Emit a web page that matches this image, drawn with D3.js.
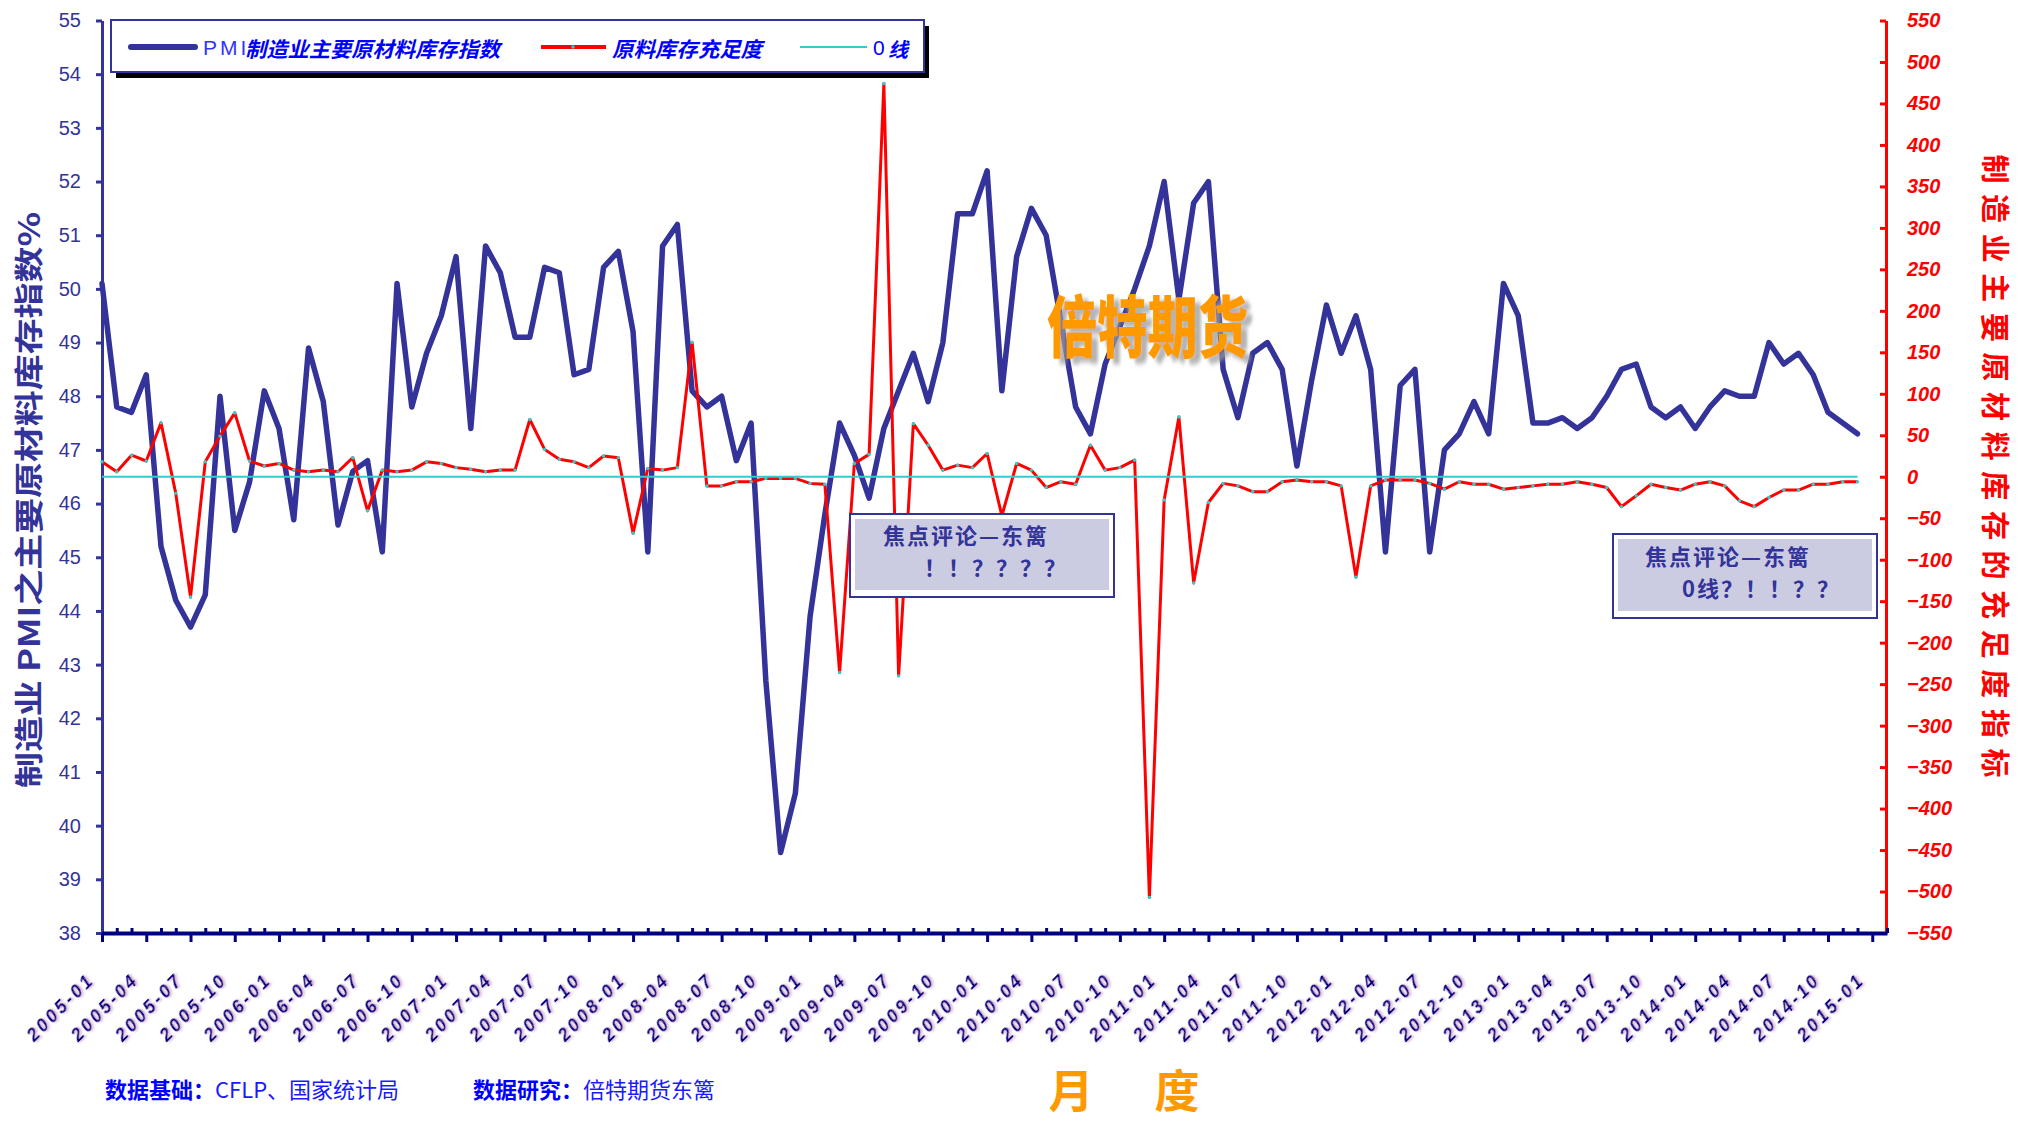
<!DOCTYPE html>
<html><head><meta charset="utf-8">
<script src="https://cdn.jsdelivr.net/npm/d3@7"></script>
<style>
html,body{margin:0;padding:0;background:#fff;overflow:hidden;}
svg{display:block;}
text{font-family:"Noto Sans CJK SC","Liberation Sans",sans-serif;}
</style></head><body>
<svg id="chart" width="2018" height="1124"></svg>
<script>
// ---------------- data ----------------
const categories = [
"2005-01","2005-02","2005-03","2005-04","2005-05","2005-06","2005-07","2005-08","2005-09","2005-10","2005-11","2005-12",
"2006-01","2006-02","2006-03","2006-04","2006-05","2006-06","2006-07","2006-08","2006-09","2006-10","2006-11","2006-12",
"2007-01","2007-02","2007-03","2007-04","2007-05","2007-06","2007-07","2007-08","2007-09","2007-10","2007-11","2007-12",
"2008-01","2008-02","2008-03","2008-04","2008-05","2008-06","2008-07","2008-08","2008-09","2008-10","2008-11","2008-12",
"2009-01","2009-02","2009-03","2009-04","2009-05","2009-06","2009-07","2009-08","2009-09","2009-10","2009-11","2009-12",
"2010-01","2010-02","2010-03","2010-04","2010-05","2010-06","2010-07","2010-08","2010-09","2010-10","2010-11","2010-12",
"2011-01","2011-02","2011-03","2011-04","2011-05","2011-06","2011-07","2011-08","2011-09","2011-10","2011-11","2011-12",
"2012-01","2012-02","2012-03","2012-04","2012-05","2012-06","2012-07","2012-08","2012-09","2012-10","2012-11","2012-12",
"2013-01","2013-02","2013-03","2013-04","2013-05","2013-06","2013-07","2013-08","2013-09","2013-10","2013-11","2013-12",
"2014-01","2014-02","2014-03","2014-04","2014-05","2014-06","2014-07","2014-08","2014-09","2014-10","2014-11","2014-12",
"2015-01","2015-02"
];
const tickLabels = [
"2005-01","2005-04","2005-07","2005-10","2006-01","2006-04","2006-07","2006-10",
"2007-01","2007-04","2007-07","2007-10","2008-01","2008-04","2008-07","2008-10",
"2009-01","2009-04","2009-07","2009-10","2010-01","2010-04","2010-07","2010-10",
"2011-01","2011-04","2011-07","2011-10","2012-01","2012-04","2012-07","2012-10",
"2013-01","2013-04","2013-07","2013-10","2014-01","2014-04","2014-07","2014-10","2015-01"
];
// PMI 制造业主要原材料库存指数 (left axis)
const pmiInventory = [
50.1,47.8,47.7,48.4,45.2,44.2,43.7,44.3,48.0,45.5,46.4,48.1,
47.4,45.7,48.9,47.9,45.6,46.6,46.8,45.1,50.1,47.8,48.8,49.5,
50.6,47.4,50.8,50.3,49.1,49.1,50.4,50.3,48.4,48.5,50.4,50.7,
49.2,45.1,50.8,51.2,48.1,47.8,48.0,46.8,47.5,42.7,39.5,40.6,
43.9,45.8,47.5,46.9,46.1,47.4,48.1,48.8,47.9,49.0,51.4,51.4,
52.2,48.1,50.6,51.5,51.0,49.4,47.8,47.3,48.6,49.3,50.0,50.8,
52.0,49.8,51.6,52.0,48.5,47.6,48.8,49.0,48.5,46.7,48.3,49.7,
48.8,49.5,48.5,45.1,48.2,48.5,45.1,47.0,47.3,47.9,47.3,50.1,
49.5,47.5,47.5,47.6,47.4,47.6,48.0,48.5,48.6,47.8,47.6,47.8,
47.4,47.8,48.1,48.0,48.0,49.0,48.6,48.8,48.4,47.7,47.5,47.3
];
// 原料库存充足度 (right axis)
const adequacy = [
18,6,26,19,65,-20,-145,18,49,77,19,13,
16,8,6,8,6,23,-41,8,6,8,18,16,
11,9,6,8,8,69,33,21,18,11,25,23,
-68,10,8,11,162,-11,-11,-6,-6,-2,-2,-2,
-8,-9,-236,16,27,474,-240,64,38,8,14,11,
28,-47,16,8,-13,-6,-9,38,8,11,20,-507,
-28,72,-128,-31,-8,-11,-18,-18,-6,-4,-6,-6,
-11,-121,-11,-4,-4,-4,-8,-15,-6,-9,-9,-15,
-13,-11,-9,-9,-6,-9,-13,-36,-23,-9,-13,-16,
-9,-6,-11,-29,-36,-25,-16,-16,-9,-9,-6,-6
];
const zeroLineValue = 0;
const leftTicks = [38,39,40,41,42,43,44,45,46,47,48,49,50,51,52,53,54,55];
const rightTicks = [-550,-500,-450,-400,-350,-300,-250,-200,-150,-100,-50,0,50,100,150,200,250,300,350,400,450,500,550];

// ---------------- chart ----------------
const svg = d3.select("#chart");
const defs = svg.append("defs");
const sh = defs.append("filter").attr("id","lblShadow").attr("x","-30%").attr("y","-30%").attr("width","160%").attr("height","160%");
sh.append("feDropShadow").attr("dx",1.5).attr("dy",1.5).attr("stdDeviation",1).attr("flood-color","#cfa0cf").attr("flood-opacity",0.9);
const wmf = defs.append("filter").attr("id","wmShadow").attr("x","-10%").attr("y","-20%").attr("width","130%").attr("height","150%");
wmf.append("feDropShadow").attr("dx",6).attr("dy",4).attr("stdDeviation",1.8).attr("flood-color","#9a9a9a").attr("flood-opacity",0.75);

const X0 = 102, X1 = 1887, YT = 20.5, YB = 933;
const x = d3.scalePoint().domain(categories).range([X0, X1]).padding(0);
const yL = d3.scaleLinear().domain([38,55]).range([YB, YT]);
const yR = d3.scaleLinear().domain([-550,550]).range([YB, YT]);

// left axis
const gL = svg.append("g").attr("transform",`translate(${X0},0)`)
  .call(d3.axisLeft(yL).tickValues(leftTicks).tickSizeInner(6).tickSizeOuter(0).tickPadding(15).tickFormat(d3.format("d")));
gL.select(".domain").attr("stroke","#333399").attr("stroke-width",3);
gL.selectAll(".tick line").attr("stroke","#333399").attr("stroke-width",3);
gL.selectAll(".tick text").attr("fill","#333399")
  .style("font-family","'Liberation Sans',Arial,sans-serif").style("font-size","20px");

// right axis
const gR = svg.append("g").attr("transform",`translate(${X1-1},0)`)
  .call(d3.axisRight(yR).tickValues(rightTicks).tickSizeInner(-6).tickSizeOuter(0).tickPadding(21).tickFormat(d3.format("d")));
gR.select(".domain").attr("stroke","#ff0000").attr("stroke-width",3);
gR.selectAll(".tick line").attr("stroke","#ff0000").attr("stroke-width",3);
gR.selectAll(".tick text").attr("fill","#ff0000")
  .style("font-family","'Liberation Sans',Arial,sans-serif").style("font-size","20px")
  .style("font-weight","bold").style("font-style","italic");

// bottom axis: minor ticks (each month, upward)
const minorVals = categories.filter(c => tickLabels.indexOf(c) < 0);
const gBm = svg.append("g").attr("transform",`translate(0,${YB})`)
  .call(d3.axisBottom(x).tickValues(minorVals).tickSizeInner(-5).tickSizeOuter(0).tickFormat(""));
gBm.select(".domain").remove();
gBm.selectAll(".tick line").attr("stroke","#000080").attr("stroke-width",3);

// bottom axis: major ticks + labels
const gB = svg.append("g").attr("transform",`translate(0,${YB})`)
  .call(d3.axisBottom(x).tickValues(tickLabels).tickSizeInner(9).tickSizeOuter(0).tickPadding(0));
gB.select(".domain").attr("stroke","#000080").attr("stroke-width",4);
gB.selectAll(".tick line").attr("stroke","#000080").attr("stroke-width",3);
gB.selectAll(".tick text")
  .attr("x",0).attr("y",0).attr("dy",0)
  .attr("text-anchor","end")
  .attr("transform","translate(-9,50) rotate(-45)")
  .attr("fill","#000080")
  .attr("textLength",84).attr("lengthAdjust","spacing")
  .attr("filter","url(#lblShadow)")
  .style("font-family","'Liberation Sans',Arial,sans-serif")
  .style("font-size","18px").style("font-weight","bold").style("font-style","italic");

// series
const nData = pmiInventory.length;
const lineL = d3.line().x((d,i) => x(categories[i])).y(d => yL(d));
const lineR = d3.line().x((d,i) => x(categories[i])).y(d => yR(d));

svg.append("path").datum(pmiInventory).attr("d",lineL)
  .attr("fill","none").attr("stroke","#333399").attr("stroke-width",5.5)
  .attr("stroke-linejoin","round").attr("stroke-linecap","round");

svg.append("path").datum(adequacy).attr("d",lineR)
  .attr("fill","none").attr("stroke","#ff0000").attr("stroke-width",3)
  .attr("stroke-linejoin","round");
svg.append("g").selectAll("circle").data(adequacy).join("circle")
  .attr("cx",(d,i) => x(categories[i])).attr("cy",d => yR(d)).attr("r",1.7).attr("fill","#33cccc");

svg.append("line")
  .attr("x1",x(categories[0])).attr("x2",x(categories[nData-1]))
  .attr("y1",yR(zeroLineValue)).attr("y2",yR(zeroLineValue))
  .attr("stroke","#33cccc").attr("stroke-width",2);

// legend
const lg = svg.append("g");
lg.append("rect").attr("x",116).attr("y",26).attr("width",813).attr("height",52).attr("fill","#000");
lg.append("rect").attr("x",111).attr("y",20).attr("width",813).attr("height",52).attr("fill","#fff")
  .attr("stroke","#333399").attr("stroke-width",2);
lg.append("line").attr("x1",131).attr("x2",195).attr("y1",47).attr("y2",47)
  .attr("stroke","#333399").attr("stroke-width",6).attr("stroke-linecap","round");
lg.append("text").attr("x",203).attr("y",55).text("PMI")
  .attr("fill","#3333ff").style("font-family","'Liberation Sans',Arial,sans-serif")
  .style("font-size","21px").style("letter-spacing","3px");
lg.append("text").attr("x",245).attr("y",57).text("制造业主要原材料库存指数")
  .attr("fill","#0000ff").attr("textLength",255).attr("lengthAdjust","spacingAndGlyphs")
  .style("font-size","21px").style("font-weight","bold").style("font-style","italic");
lg.append("line").attr("x1",541).attr("x2",606).attr("y1",47).attr("y2",47)
  .attr("stroke","#ff0000").attr("stroke-width",4);
lg.append("circle").attr("cx",573).attr("cy",47).attr("r",1.7).attr("fill","#33cccc");
lg.append("text").attr("x",612).attr("y",57).text("原料库存充足度")
  .attr("fill","#0000ff").attr("textLength",150).attr("lengthAdjust","spacingAndGlyphs")
  .style("font-size","21px").style("font-weight","bold").style("font-style","italic");
lg.append("line").attr("x1",800).attr("x2",867).attr("y1",47).attr("y2",47)
  .attr("stroke","#33cccc").attr("stroke-width",2);
lg.append("text").attr("x",873).attr("y",55).text("0")
  .attr("fill","#0000ff").style("font-family","'Liberation Sans',Arial,sans-serif").style("font-size","21px");
lg.append("text").attr("x",888).attr("y",57).text("线")
  .attr("fill","#0000ff").style("font-size","20px").style("font-weight","bold").style("font-style","italic");

// axis titles
svg.append("text").attr("transform","translate(27,500) rotate(-90)")
  .attr("text-anchor","middle").attr("dominant-baseline","central")
  .attr("textLength",576).attr("lengthAdjust","spacingAndGlyphs")
  .attr("fill","#333399").style("font-size","29px").style("font-weight","bold")
  .text("制造业 PMI之主要原材料库存指数%");
svg.append("text").attr("transform","translate(1997,466) rotate(90)")
  .attr("text-anchor","middle").attr("dominant-baseline","central")
  .attr("textLength",623).attr("lengthAdjust","spacing")
  .attr("fill","#ff0000").style("font-size","29px").style("font-weight","bold")
  .text("制造业主要原材料库存的充足度指标");

// annotation boxes
function noteBox(x0,y0,w,h,line1,l1x,l1y,line2,l2x,l2y){
  const g = svg.append("g");
  g.append("rect").attr("x",x0).attr("y",y0).attr("width",w).attr("height",h)
    .attr("fill","#fff").attr("stroke","#333399").attr("stroke-width",2);
  g.append("rect").attr("x",x0+5).attr("y",y0+5).attr("width",w-10).attr("height",h-12).attr("fill","#cbcbe2");
  g.append("text").attr("x",l1x).attr("y",l1y).attr("dominant-baseline","central").text(line1)
    .attr("fill","#333399").style("font-size","22px").style("font-weight","bold").style("letter-spacing","2px");
  g.append("text").attr("x",l2x).attr("y",l2y).attr("dominant-baseline","central").text(line2)
    .attr("fill","#333399").style("font-size","22px").style("font-weight","bold").style("letter-spacing","2px");
}
noteBox(850,514,264,83,"焦点评论—东篱",883,534,"！！？？？？",924,566);
noteBox(1613,534,264,84,"焦点评论—东篱",1645,555,"0线？！！？？",1682,587);

// watermark
svg.append("g").attr("transform","translate(1047,352) scale(1,1.35)")
  .append("text").attr("x",0).attr("y",0).text("倍特期货").attr("fill","#ff9900")
  .attr("filter","url(#wmShadow)")
  .attr("textLength",201).attr("lengthAdjust","spacingAndGlyphs")
  .style("font-size","50px").style("font-weight","900");

// footer
const ft = svg.append("text").attr("x",105).attr("y",1098).style("font-size","22px").attr("fill","#0000ff");
ft.append("tspan").text("数据基础：").style("font-weight","bold");
ft.append("tspan").text("CFLP、国家统计局").attr("fill","#1a1aff");
const ft2 = svg.append("text").attr("x",473).attr("y",1098).style("font-size","22px").attr("fill","#0000ff");
ft2.append("tspan").text("数据研究：").style("font-weight","bold");
ft2.append("tspan").text("倍特期货东篱").attr("fill","#1a1aff");

svg.append("text").attr("x",1071).attr("y",1108).attr("text-anchor","middle").text("月")
  .attr("fill","#ff9900").style("font-size","45px").style("font-weight","bold");
svg.append("text").attr("x",1177).attr("y",1108).attr("text-anchor","middle").text("度")
  .attr("fill","#ff9900").style("font-size","45px").style("font-weight","bold");
</script>
</body></html>
